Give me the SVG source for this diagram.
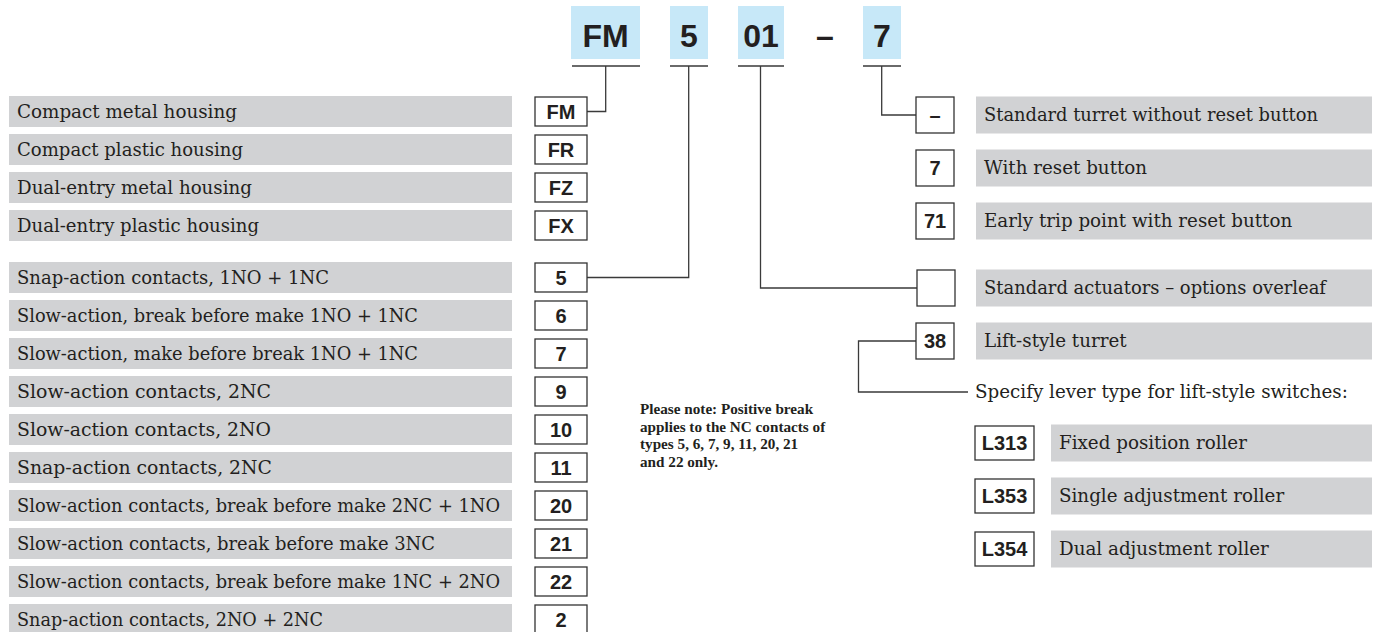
<svg xmlns="http://www.w3.org/2000/svg" width="1380" height="632" viewBox="0 0 1380 632">
<style>
.hdr{fill:#c7e8f8}
.hdt{font-family:"Liberation Sans",Arial,sans-serif;font-weight:bold;font-size:32px;fill:#231f20;text-anchor:middle}
.bar{fill:#d1d2d4}
.lbl{font-family:"DejaVu Serif","Liberation Serif",serif;font-size:18.3px;fill:#231f20}
.box{fill:#fff;stroke:#333;stroke-width:1.3}
.bt{font-family:"Liberation Sans",Arial,sans-serif;font-weight:bold;font-size:20px;fill:#231f20;text-anchor:middle}
.ln{fill:none;stroke:#3a3a3a;stroke-width:1.3}
.note{font-family:"Liberation Serif","DejaVu Serif",serif;font-weight:bold;font-size:15.2px;fill:#231f20}
</style>
<rect width="1380" height="632" fill="#fff"/>
<g id="header">
<rect class="hdr" x="571" y="6" width="69" height="53"/><text class="hdt" x="605.5" y="47">FM</text>
<rect class="hdr" x="670" y="6" width="38" height="53"/><text class="hdt" x="689" y="47">5</text>
<rect class="hdr" x="738" y="6" width="46" height="53"/><text class="hdt" x="761" y="47">01</text>
<text class="hdt" x="825" y="47">–</text>
<rect class="hdr" x="863" y="6" width="38" height="53"/><text class="hdt" x="882" y="47">7</text>
<path class="ln" d="M572 66H640M670 66H708M738 66H784M863 66H901"/>
</g>
<g id="connectors">
<path class="ln" d="M605.7 66V111.5H587"/>
<path class="ln" d="M688.7 66V277.5H587"/>
<path class="ln" d="M760.5 66V288H917"/>
<path class="ln" d="M881.7 66V115H916"/>
<path class="ln" d="M916 341H858.5V392H968"/>
</g>
<g id="housing">
<rect class="bar" x="9" y="96" width="503" height="31"/><text class="lbl" x="17" y="117.5" textLength="220" lengthAdjust="spacingAndGlyphs">Compact metal housing</text>
<rect class="box" x="535" y="97" width="52" height="29"/><text class="bt" x="561" y="119">FM</text>
<rect class="bar" x="9" y="134" width="503" height="31"/><text class="lbl" x="17" y="155.5" textLength="226" lengthAdjust="spacingAndGlyphs">Compact plastic housing</text>
<rect class="box" x="535" y="135" width="52" height="29"/><text class="bt" x="561" y="157">FR</text>
<rect class="bar" x="9" y="172" width="503" height="31"/><text class="lbl" x="17" y="193.5" textLength="235" lengthAdjust="spacingAndGlyphs">Dual-entry metal housing</text>
<rect class="box" x="535" y="173" width="52" height="29"/><text class="bt" x="561" y="195">FZ</text>
<rect class="bar" x="9" y="210" width="503" height="31"/><text class="lbl" x="17" y="231.5" textLength="242" lengthAdjust="spacingAndGlyphs">Dual-entry plastic housing</text>
<rect class="box" x="535" y="211" width="52" height="29"/><text class="bt" x="561" y="233">FX</text>
</g>
<g id="contacts">
<rect class="bar" x="9" y="262" width="503" height="31"/><text class="lbl" x="17" y="283.5" textLength="312" lengthAdjust="spacingAndGlyphs">Snap-action contacts, 1NO + 1NC</text>
<rect class="box" x="535" y="263" width="52" height="29"/><text class="bt" x="561" y="285">5</text>
<rect class="bar" x="9" y="300" width="503" height="31"/><text class="lbl" x="17" y="321.5" textLength="401" lengthAdjust="spacingAndGlyphs">Slow-action, break before make 1NO + 1NC</text>
<rect class="box" x="535" y="301" width="52" height="29"/><text class="bt" x="561" y="323">6</text>
<rect class="bar" x="9" y="338" width="503" height="31"/><text class="lbl" x="17" y="359.5" textLength="401" lengthAdjust="spacingAndGlyphs">Slow-action, make before break 1NO + 1NC</text>
<rect class="box" x="535" y="339" width="52" height="29"/><text class="bt" x="561" y="361">7</text>
<rect class="bar" x="9" y="376" width="503" height="31"/><text class="lbl" x="17" y="397.5" textLength="254" lengthAdjust="spacingAndGlyphs">Slow-action contacts, 2NC</text>
<rect class="box" x="535" y="377" width="52" height="29"/><text class="bt" x="561" y="399">9</text>
<rect class="bar" x="9" y="414" width="503" height="31"/><text class="lbl" x="17" y="435.5" textLength="254" lengthAdjust="spacingAndGlyphs">Slow-action contacts, 2NO</text>
<rect class="box" x="535" y="415" width="52" height="29"/><text class="bt" x="561" y="437">10</text>
<rect class="bar" x="9" y="452" width="503" height="31"/><text class="lbl" x="17" y="473.5" textLength="255" lengthAdjust="spacingAndGlyphs">Snap-action contacts, 2NC</text>
<rect class="box" x="535" y="453" width="52" height="29"/><text class="bt" x="561" y="475">11</text>
<rect class="bar" x="9" y="490" width="503" height="31"/><text class="lbl" x="17" y="511.5" textLength="483" lengthAdjust="spacingAndGlyphs">Slow-action contacts, break before make 2NC + 1NO</text>
<rect class="box" x="535" y="491" width="52" height="29"/><text class="bt" x="561" y="513">20</text>
<rect class="bar" x="9" y="528" width="503" height="31"/><text class="lbl" x="17" y="549.5" textLength="418" lengthAdjust="spacingAndGlyphs">Slow-action contacts, break before make 3NC</text>
<rect class="box" x="535" y="529" width="52" height="29"/><text class="bt" x="561" y="551">21</text>
<rect class="bar" x="9" y="566" width="503" height="31"/><text class="lbl" x="17" y="587.5" textLength="483" lengthAdjust="spacingAndGlyphs">Slow-action contacts, break before make 1NC + 2NO</text>
<rect class="box" x="535" y="567" width="52" height="29"/><text class="bt" x="561" y="589">22</text>
<rect class="bar" x="9" y="604" width="503" height="31"/><text class="lbl" x="17" y="625.5" textLength="306" lengthAdjust="spacingAndGlyphs">Snap-action contacts, 2NO + 2NC</text>
<rect class="box" x="535" y="605" width="52" height="29"/><text class="bt" x="561" y="627">2</text>
</g>
<g id="note">
<text class="note" x="640" y="414">Please note: Positive break</text>
<text class="note" x="640" y="431.5">applies to the NC contacts of</text>
<text class="note" x="640" y="449">types 5, 6, 7, 9, 11, 20, 21</text>
<text class="note" x="640" y="466.5">and 22 only.</text>
</g>
<g id="turret">
<rect class="box" x="916" y="97" width="38" height="36"/><text class="bt" x="935" y="122">–</text>
<rect class="bar" x="976" y="96.5" width="396" height="37"/><text class="lbl" x="984" y="121" textLength="334" lengthAdjust="spacingAndGlyphs">Standard turret without reset button</text>
<rect class="box" x="916" y="150" width="38" height="36"/><text class="bt" x="935" y="175">7</text>
<rect class="bar" x="976" y="149.5" width="396" height="37"/><text class="lbl" x="984" y="174">With reset button</text>
<rect class="box" x="916" y="203" width="38" height="36"/><text class="bt" x="935" y="228">71</text>
<rect class="bar" x="976" y="202.5" width="396" height="37"/><text class="lbl" x="984" y="227">Early trip point with reset button</text>
</g>
<g id="actuators">
<rect class="box" x="917" y="270" width="38" height="36"/>
<rect class="bar" x="976" y="269.5" width="396" height="37"/><text class="lbl" x="984" y="294" textLength="342" lengthAdjust="spacingAndGlyphs">Standard actuators – options overleaf</text>
<rect class="box" x="916" y="323" width="38" height="36"/><text class="bt" x="935" y="348">38</text>
<rect class="bar" x="976" y="322.5" width="396" height="37"/><text class="lbl" x="984" y="347">Lift-style turret</text>
<text class="lbl" x="975" y="398">Specify lever type for lift-style switches:</text>
</g>
<g id="levers">
<rect class="box" x="975" y="426" width="59" height="34"/><text class="bt" x="1004.5" y="450">L313</text>
<rect class="bar" x="1051" y="424.5" width="321" height="37"/><text class="lbl" x="1059" y="449">Fixed position roller</text>
<rect class="box" x="975" y="479" width="59" height="34"/><text class="bt" x="1004.5" y="503">L353</text>
<rect class="bar" x="1051" y="477.5" width="321" height="37"/><text class="lbl" x="1059" y="502">Single adjustment roller</text>
<rect class="box" x="975" y="532" width="59" height="34"/><text class="bt" x="1004.5" y="556">L354</text>
<rect class="bar" x="1051" y="530.5" width="321" height="37"/><text class="lbl" x="1059" y="555">Dual adjustment roller</text>
</g>
</svg>
